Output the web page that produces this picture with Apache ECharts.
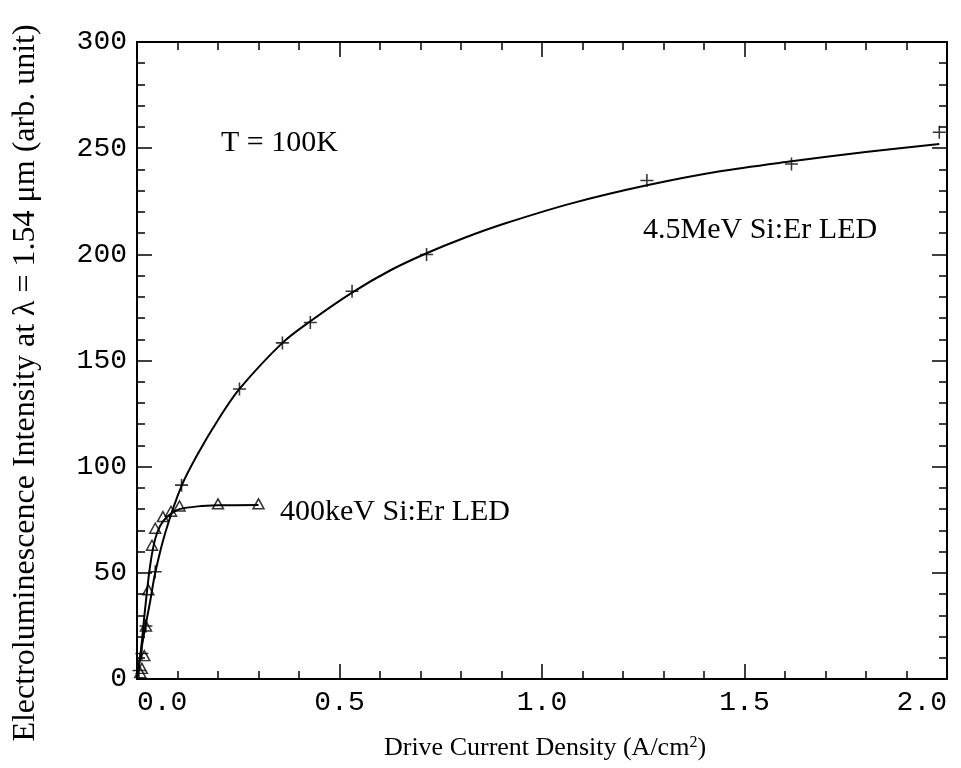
<!DOCTYPE html>
<html>
<head>
<meta charset="utf-8">
<script src="https://cdn.jsdelivr.net/npm/echarts@6/dist/echarts.min.js"></script>
<style>
  html, body { margin: 0; padding: 0; background: #fff; }
  #chart { width: 961px; height: 768px; }
</style>
</head>
<body>
<div id="chart"></div>
<script>
// Drive current density (A/cm^2) and EL intensity (arb. unit)
// 4.5 MeV Si:Er LED - measured points
const pts45X = [0.005, 0.012, 0.022, 0.045, 0.11, 0.253, 0.359, 0.428, 0.531, 0.715, 1.259, 1.616, 1.981];
const pts45Y = [4, 12, 25, 50.5, 91.3, 136.6, 158.3, 167.9, 182.6, 199.9, 234.8, 242.5, 257.5];
// 4.5 MeV Si:Er LED - fitted curve
const curve45X = [0, 0.01, 0.02, 0.032, 0.045, 0.07, 0.11, 0.15, 0.2, 0.253, 0.359, 0.428, 0.531, 0.626, 0.715, 0.809, 0.908, 1.073, 1.259, 1.436, 1.616, 1.799, 1.981];
const curve45Y = [0, 13, 24, 36, 50, 69, 91, 106, 122, 136.6, 158.3, 168.5, 182, 192.5, 200.5, 207.8, 214.5, 224, 232.5, 239, 243.8, 248.2, 252];

// 400 keV Si:Er LED - measured points
const pts400X = [0.008, 0.012, 0.018, 0.022, 0.028, 0.037, 0.045, 0.064, 0.084, 0.105, 0.2, 0.3];
const pts400Y = [3, 5, 11, 25, 42, 63, 71, 76.5, 79, 81.5, 82.5, 82.5];
// 400 keV Si:Er LED - fitted curve
const curve400X = [0, 0.01, 0.02, 0.03, 0.04, 0.05, 0.065, 0.085, 0.105, 0.15, 0.2, 0.3];
const curve400Y = [0, 14, 33, 50, 62, 69, 74.5, 78, 80, 81.3, 81.8, 82];

// Tick labels
const xTicks = ['0.0', '0.5', '1.0', '1.5', '2.0'];
const yTicks = ['0', '50', '100', '150', '200', '250', '300'];

const zip = (xs, ys) => xs.map((x, i) => [x, ys[i]]);

const chart = echarts.init(document.getElementById('chart'), null, { renderer: 'canvas' });

const tickFont = { fontFamily: 'Liberation Mono', fontSize: 28, color: '#000' };
const serif = 'Liberation Serif';
const lineStyle = { color: '#000', width: 2 };

function xAxisDef(pos, showLabels) {
  return {
    type: 'value', position: pos, min: 0, max: 2, interval: 0.5,
    axisLine: { show: true, onZero: false, lineStyle },
    axisTick: { show: true, inside: true, length: 15, lineStyle: { color: '#000', width: 1.5 } },
    minorTick: { show: true, splitNumber: 5, length: 8, lineStyle: { color: '#000', width: 1.5 } },
    splitLine: { show: false },
    axisLabel: showLabels ? Object.assign({
      margin: 10,
      alignMinLabel: 'left',
      alignMaxLabel: 'right',
      formatter: v => xTicks[Math.round(v / 0.5)]
    }, tickFont) : { show: false }
  };
}
function yAxisDef(pos, showLabels) {
  return {
    type: 'value', position: pos, min: 0, max: 300, interval: 50,
    axisLine: { show: true, onZero: false, lineStyle },
    axisTick: { show: true, inside: true, length: 15, lineStyle: { color: '#000', width: 1.5 } },
    minorTick: { show: true, splitNumber: 5, length: 8, lineStyle: { color: '#000', width: 1.5 } },
    splitLine: { show: false },
    axisLabel: showLabels ? Object.assign({
      margin: 10,
      formatter: v => yTicks[Math.round(v / 50)]
    }, tickFont) : { show: false }
  };
}

const plusSymbol = 'path://M4.4,0H5.6V4.4H10V5.6H5.6V10H4.4V5.6H0V4.4H4.4Z';

chart.setOption({
  animation: false,
  backgroundColor: '#fff',
  grid: { left: 137, right: 14, top: 42, bottom: 89 },
  xAxis: [xAxisDef('bottom', true), xAxisDef('top', false)],
  yAxis: [yAxisDef('left', true), yAxisDef('right', false)],
  series: [
    {
      name: '4.5MeV fit', type: 'line', data: zip(curve45X, curve45Y),
      smooth: 0.3, showSymbol: false, lineStyle: { color: '#000', width: 2 }
    },
    {
      name: '400keV fit', type: 'line', data: zip(curve400X, curve400Y),
      smooth: 0.3, showSymbol: false, lineStyle: { color: '#000', width: 2 }
    },
    {
      name: '4.5MeV Si:Er LED', type: 'scatter', data: zip(pts45X, pts45Y),
      symbol: plusSymbol, symbolSize: 13,
      itemStyle: { color: '#000' }
    },
    {
      name: '400keV Si:Er LED', type: 'scatter', data: zip(pts400X, pts400Y),
      symbol: 'triangle', symbolSize: [11, 10],
      itemStyle: { color: 'rgba(255,255,255,0)', borderColor: '#000', borderWidth: 1.5 }
    }
  ],
  graphic: [
    {
      type: 'text', x: 26, y: 383, rotation: Math.PI / 2,
      style: {
        text: 'Electroluminescence Intensity at \u03bb = 1.54 \u03bcm (arb. unit)',
        font: '32px "Liberation Serif"', fill: '#000',
        textAlign: 'center', textVerticalAlign: 'middle'
      }
    },
    {
      type: 'text', x: 545, y: 748,
      style: {
        text: '{a|Drive Current Density (A/cm}{s|2}{a|)}',
        fill: '#000', textAlign: 'center', textVerticalAlign: 'middle',
        rich: {
          a: { fontFamily: serif, fontSize: 26, color: '#000' },
          s: { fontFamily: serif, fontSize: 16, color: '#000', verticalAlign: 'top', padding: [0, 0, 11, 0] }
        }
      }
    },
    {
      type: 'text', x: 221, y: 143,
      style: { text: 'T = 100K', font: '30px "Liberation Serif"', fill: '#000', textVerticalAlign: 'middle' }
    },
    {
      type: 'text', x: 643, y: 230,
      style: { text: '4.5MeV Si:Er LED', font: '30px "Liberation Serif"', fill: '#000', textVerticalAlign: 'middle' }
    },
    {
      type: 'text', x: 280, y: 512,
      style: { text: '400keV Si:Er LED', font: '30px "Liberation Serif"', fill: '#000', textVerticalAlign: 'middle' }
    }
  ]
});
</script>
</body>
</html>
